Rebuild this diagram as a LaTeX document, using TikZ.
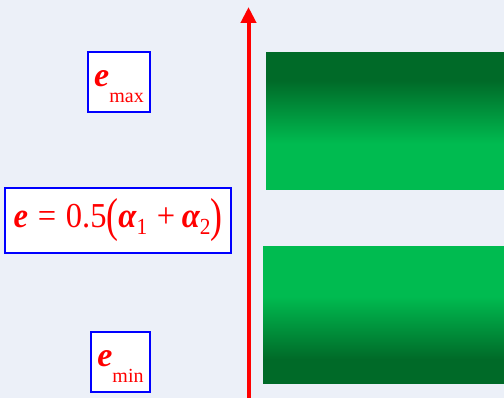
\documentclass[tikz,border=0pt]{standalone}
\usepackage{fontspec}
\setmainfont{Liberation Serif}
\usepackage{graphicx}
\usetikzlibrary{arrows.meta,positioning}
\definecolor{paper}{RGB}{236,240,248}
\definecolor{deepgreen}{RGB}{0,106,40}
\definecolor{brightgreen}{RGB}{0,187,80}
\definecolor{pen}{RGB}{255,0,0}
\definecolor{frame}{RGB}{0,0,255}
% plate shadings (pgf maps the path to 25bp..75bp)
\pgfdeclareverticalshading{upperplate}{100bp}{color(0bp)=(brightgreen); color(42bp)=(brightgreen);
  color(65bp)=(deepgreen); color(100bp)=(deepgreen)}
\pgfdeclareverticalshading{lowerplate}{100bp}{color(0bp)=(deepgreen); color(34bp)=(deepgreen);
  color(57bp)=(brightgreen); color(100bp)=(brightgreen)}
\newcommand{\ee}{{\bfseries\itshape e}}
\newcommand{\al}{{\bfseries\itshape α}}
\newcommand{\lowsub}[3]{\raisebox{-#2pt}{\fontsize{#1}{#1}\selectfont #3}}
\newcommand{\bigparen}[1]{\raisebox{-3.8pt}{\scalebox{1.1}[1.36]{#1}}}
\tikzset{
  >={Triangle[length=16pt,width=15pt]},
  valbox/.style={draw=frame,line width=2pt,fill=white,inner sep=0pt,
    text=pen,font=\fontsize{34}{34}\selectfont,text height=15pt,text depth=5pt},
  plate/.style={line width=0pt},
  axis/.style={->,draw=pen,line width=4pt},
}
\begin{document}
\begin{tikzpicture}[x=1pt,y=1pt]
  \fill[paper] (0,0) rectangle (504,398);
  \useasboundingbox (0,0) rectangle (504,398);
  % capacitor plates
  \shade[plate,shading=upperplate] (266,208) rectangle (504,345);
  \shade[plate,shading=lowerplate] (263,14) rectangle (504,151);
  % vertical axis
  \coordinate (axbot) at (248.5,0);
  \coordinate (axtop) at (248.5,391);
  \draw[axis] (axbot) -- (axtop);
  % labels
  \node[valbox,minimum width=62pt,minimum height=60pt] (emax) at (119,316)
    {\ee\lowsub{20}{16}{max}};
  \node[valbox,minimum width=226pt,minimum height=65pt,font=\fontsize{35}{35}\selectfont,
    text height=20pt,text depth=5pt] (emid) at (118,177.5)
    {\scalebox{0.93}[1]{\ee\hspace{0.3em}=\hspace{0.3em}0.5\bigparen{(}\al\lowsub{23}{7}{1}\hspace{0.3em}+\hspace{0.2em}\al\lowsub{23}{7}{2}\bigparen{)}}\hspace{3pt}};
  \node[valbox,minimum width=59pt,minimum height=60pt] (emin) at (120.5,36)
    {\ee\lowsub{20}{16}{min}};
\end{tikzpicture}
\end{document}
